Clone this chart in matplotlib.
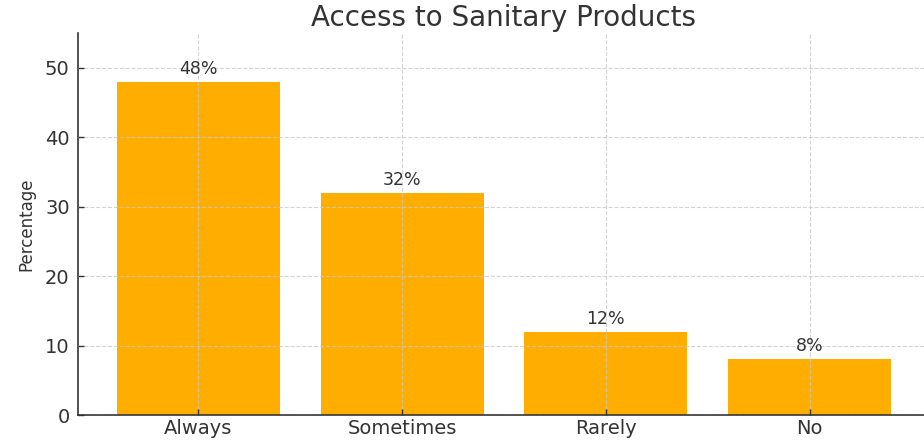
import matplotlib
matplotlib.use("Agg")
import matplotlib.pyplot as plt

categories = ["Always", "Sometimes", "Rarely", "No"]
percentages = [48, 32, 12, 8]
yticks = [0, 10, 20, 30, 40, 50]

bar_color = "#FFAE00"
text_color = "#333333"

fig = plt.figure(figsize=(9.24, 4.43), dpi=100)
ax = fig.add_axes([0.0844, 0.0632, 0.922, 0.862])

bars = ax.bar(categories, percentages, width=0.8, color=bar_color, zorder=1)
ax.set_ylim(0, 55)
ax.set_yticks(yticks)

ax.grid(True, linestyle="--", color="#c8c8c8", linewidth=0.8, alpha=0.8, zorder=2)
ax.set_axisbelow(False)

for spine in ["top", "right"]:
    ax.spines[spine].set_visible(False)
for spine in ["left", "bottom"]:
    ax.spines[spine].set_color(text_color)
    ax.spines[spine].set_linewidth(1.2)

ax.tick_params(axis="both", direction="in", colors=text_color, length=4, width=1)
ax.tick_params(axis="y", labelsize=14, pad=6)
ax.tick_params(axis="x", labelsize=14, pad=3)
for lbl in ax.get_xticklabels() + ax.get_yticklabels():
    lbl.set_color(text_color)

for rect, val in zip(bars, percentages):
    ax.annotate(f"{val}%", xy=(rect.get_x() + rect.get_width() / 2, val),
                xytext=(0, 3), textcoords="offset points",
                ha="center", va="bottom", fontsize=12.5, color=text_color)

ax.set_title("Access to Sanitary Products", fontsize=20, color=text_color, pad=5)
ax.set_ylabel("Percentage", fontsize=12, color=text_color, labelpad=7)

fig.savefig("out.png", dpi=100)
